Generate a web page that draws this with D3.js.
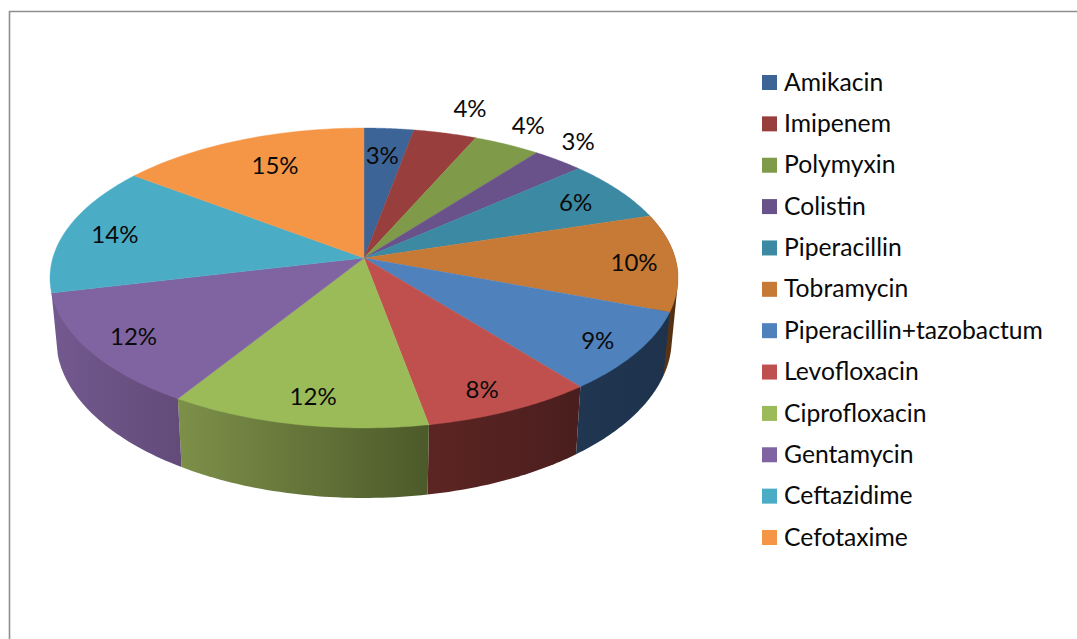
<!DOCTYPE html>
<html>
<head>
<meta charset="utf-8">
<script src="https://cdn.jsdelivr.net/npm/d3@7"></script>
<style>
html,body{margin:0;padding:0;background:#fff;overflow:hidden}
svg{display:block}
text{font-family:Lato,"Open Sans",sans-serif;fill:#0a0a0a}
</style>
</head>
<body>
<svg id="chart" width="1077" height="639"></svg>
<script>
const categories = ["Amikacin","Imipenem","Polymyxin","Colistin","Piperacillin","Tobramycin","Piperacillin+tazobactum","Levofloxacin","Ciprofloxacin","Gentamycin","Ceftazidime","Cefotaxime"];
const values = [2.9,3.7,3.9,3.0,6.7,10.5,8.6,7.8,11.8,12.4,14.0,14.7];
const percentLabels = ["3%","4%","4%","3%","6%","10%","9%","8%","12%","12%","14%","15%"];
const topColors = ["#3c6497","#983f3d","#7f9a48","#69528a","#3b89a3","#c77936","#4f81bd","#c0504d","#9bbb59","#8064a2","#4bacc6","#f49646"];
const wallLeft  = {5:"#6e4019",6:"#203651",7:"#5c2523",8:"#7d9049",9:"#73598f"};
const wallRight = {5:"#4f2d10",6:"#1e324c",7:"#4a1e1e",8:"#4c5a2a",9:"#624b79"};
const labelRadius = [.77,1.235,1.19,1.175,.82,.865,.87,.865,.845,.85,.835,.757];
const labelTurnDeg = [-.4,1.5,-.5,-2.3,.2,.2,.5,1.4,-.9,.1,-.4,2.1];

const svg = d3.select("#chart");
const defs = svg.append("defs");

// frame
svg.append("path").attr("d","M9.5,639V11.5H1077").attr("fill","none").attr("stroke","#8e8e8e").attr("stroke-width",1.6);

// perspective of the pie disc
const persp = 0.1333;
const cx = 364;
const xTop = d3.scaleLinear().domain([-1,1]).range([cx-311.2,cx+311.2]);
const yTop = d3.scaleLinear().domain([-1,1]).range([258-147.3,258+147.3]);
const xBot = d3.scaleLinear().domain([-1,1]).range([cx-305,cx+305]);
const yBot = d3.scaleLinear().domain([-1,1]).range([318-156,318+156]);
function project(a, r, xs, ys){
  const x = r*Math.sin(a), y = -r*Math.cos(a), w = 1-persp*y;
  return [xs(x/w), ys(y/w)];
}
const arcPts = (a0,a1,xs,ys) => d3.range(0,41).map(i => project(a0+(a1-a0)*i/40,1,xs,ys));
const line = d3.line();

const arcs = d3.pie().sort(null).value(d=>d).startAngle(0).endAngle(2*Math.PI)(values);

// side walls (front-facing slices only)
const wallG = svg.append("g");
arcs.forEach((d,i)=>{
  if(!(i in wallLeft)) return;
  const id = "wall"+i;
  const g = defs.append("linearGradient").attr("id",id).attr("x1",0).attr("x2",1).attr("y1",0).attr("y2",0);
  g.append("stop").attr("offset",0).attr("stop-color",wallLeft[i]);
  g.append("stop").attr("offset",1).attr("stop-color",wallRight[i]);
  const hull = d3.polygonHull(arcPts(d.startAngle,d.endAngle,xTop,yTop).concat(arcPts(d.startAngle,d.endAngle,xBot,yBot)));
  wallG.append("path").attr("d",line(hull)+"Z").attr("fill",`url(#${id})`);
});

// top face
const topG = svg.append("g");
arcs.forEach((d,i)=>{
  const pts = [project(0,0,xTop,yTop)].concat(arcPts(d.startAngle,d.endAngle,xTop,yTop));
  topG.append("path").attr("d",line(pts)+"Z").attr("fill",topColors[i]).attr("stroke",topColors[i]).attr("stroke-width",.4);
});

// data labels
arcs.forEach((d,i)=>{
  const mid = (d.startAngle+d.endAngle)/2 + labelTurnDeg[i]*Math.PI/180;
  const p = project(mid,labelRadius[i],xTop,yTop);
  svg.append("text").attr("x",p[0]).attr("y",p[1]).attr("dy","0.36em")
    .attr("text-anchor","middle").attr("font-size",24).text(percentLabels[i]);
});

// legend
const legendY = d3.scaleLinear().domain([0,categories.length-1]).range([82.5,537.5]);
const legend = svg.append("g").selectAll("g").data(categories).join("g")
  .attr("transform",(d,i)=>`translate(762,${legendY(i)})`);
legend.append("rect").attr("x",0).attr("y",-7.5).attr("width",15).attr("height",15).attr("fill",(d,i)=>topColors[i]);
legend.append("text").attr("x",22).attr("dy","0.33em").attr("font-size",24.7).text(d=>d);
</script>
</body>
</html>
